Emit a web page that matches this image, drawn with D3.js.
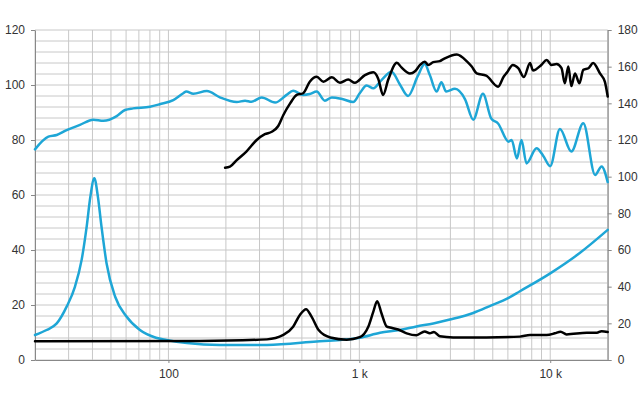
<!DOCTYPE html>
<html><head><meta charset="utf-8">
<script src="https://cdn.jsdelivr.net/npm/d3@7/dist/d3.min.js"></script>
<style>body{margin:0;background:#fff}svg{display:block}</style>
</head><body><svg id="c" width="640" height="400"></svg>
<script>
// ---- data (frequency in Hz, values on left axis) ----
const blueSplFreq = [20,23.5,26,29.3,34.4,40.4,45.6,53.6,59.2,65.3,80,90,106,119.6,124,135,159,186,228,252,272,308,362,416,450,508,550,598,660,718,822,928,1005,1092,1184,1306,1474,1628,1800,2025,2200,2340,2540,2690,2850,3170,3580,3950,4440,4910,5330,6050,6280,6690,7070,7510,8480,9180,10000,11240,12900,14900,17190,18580,20000];
const blueSplDb   = [76.6,81.2,81.8,83.6,85.5,87.4,87.0,88.7,90.9,91.5,92.1,93.0,94.5,97.0,97.6,96.8,97.8,95.5,93.8,94.3,93.9,95.5,93.6,96.4,97.9,96.4,96.7,97.6,94.3,95.5,94.8,93.8,97.0,99.8,98.8,101.8,104.8,100.3,96.0,103.3,107.6,103.6,97.6,101.0,97.6,98.6,94.8,87.4,96.8,87.8,86.0,79.4,80.0,73.3,80.0,71.5,77.0,74.3,70.5,84.0,75.8,86.1,67.3,70.4,64.7];

const blackSplFreq = [198,210,228,256,290,320,348,376,400,434,470,508,550,598,648,718,792,874,948,1070,1184,1254,1332,1418,1572,1662,1842,1958,2080,2200,2296,2440,2640,2740,3240,3670,3880,4120,4620,5330,5700,5930,6370,6800,7280,7840,8120,8980,9580,10160,10800,11460,11920,12440,12900,13480,14220,14900,15860,16780,18220,19320,20000];
const blackSplDb   = [69.9,70.3,72.7,75.8,80.0,82.1,83.0,85.1,89.1,93.3,96.4,97.0,101.2,103.0,101.2,102.8,100.8,102.0,100.8,103.6,104.6,102.4,96.4,102.0,108.1,106.4,104.2,105.0,107.3,108.5,107.3,108.3,108.7,109.3,111.1,108.5,106.7,104.2,103.4,99.4,103.0,104.5,107.3,106.1,102.9,108.0,105.3,107.3,109.1,107.3,107.6,106.1,100.6,106.7,99.6,104.2,100.6,105.5,106.1,108.0,104.2,101.2,95.8];

const blueImpFreq = [20,23,26,29.3,32.4,35.1,37.3,39,40.9,42.7,44.6,47.4,52.6,60.3,70.9,86,97.8,125,186,328,598,792,1005,1284,1628,1992,2440,2980,3950,4820,6050,6940,10000,14220,20000];
const blueImpVal  = [9.1,10.9,13.3,19.4,26.7,36.4,48.5,59.4,66.1,59.4,48.5,35.2,23.0,15.8,10.9,8.1,7.3,6.2,5.5,5.5,6.7,7.3,8.1,9.9,10.9,12.2,13.3,14.7,17.1,19.6,22.6,25.0,31.5,38.8,47.3];

const blackImpFreq = [20,146,328,400,450,488,526,562,612,704,858,1005,1114,1184,1240,1306,1394,1448,1598,1770,1992,2200,2340,2460,2640,3100,4620,6940,7840,9580,10560,11330,12180,15550,17550,18580,20000];
const blackImpVal  = [6.8,6.9,7.5,9.1,12.1,16.4,18.5,15.8,10.9,8.2,7.4,8.3,12.1,17.6,21.4,17.0,12.1,11.8,11.1,9.7,9.0,10.4,9.7,10.2,8.6,8.2,8.2,8.5,9.1,9.1,9.7,10.3,9.3,9.9,9.9,10.5,10.2];

const leftTicks  = [0,20,40,60,80,100,120];
const rightTicks = [0,20,40,60,80,100,120,140,160,180];
const xTicks = [100,1000,10000];
const xTickLabels = ["100","1 k","10 k"];

const BLUE = "#1ea6d6", BLACK = "#000000";
const svg = d3.select("#c");
const x  = d3.scaleLog().domain([20,20000]).range([35,607.7]);
const yL = d3.scaleLinear().domain([0,120]).range([360,30]);
const yR = d3.scaleLinear().domain([0,180]).range([360,30]);

// grid
const g = svg.append("g");
const vLines = [];
[10,100,1000,10000].forEach(d => { for (let k=1;k<10;k++){ const f=d*k; if (f>=20 && f<=20000) vLines.push(f);} });
vLines.push(20000);
g.selectAll("line.v").data(vLines).join("line")
  .attr("x1",d=>x(d)).attr("x2",d=>x(d)).attr("y1",yL(120)).attr("y2",yL(0))
  .attr("stroke","#c8c8c8").attr("stroke-width",1);
g.selectAll("line.h").data(d3.range(0,121,4)).join("line")
  .attr("x1",x(20)).attr("x2",x(20000)).attr("y1",d=>yL(d)).attr("y2",d=>yL(d))
  .attr("stroke","#c8c8c8").attr("stroke-width",1);

// axes
const font = "'Liberation Sans', Arial, sans-serif";
function styleAxis(sel){
  sel.selectAll("text").attr("font-family",font).attr("font-size","12px").attr("fill","#333");
  sel.selectAll("line").attr("stroke","#888");
  sel.select(".domain").attr("stroke","#888");
}
svg.append("g").attr("transform",`translate(${x(20)},0)`)
  .call(d3.axisLeft(yL).tickValues(leftTicks).tickSize(4).tickSizeOuter(0).tickPadding(6).tickFormat(d3.format("d")))
  .call(styleAxis);
svg.append("g").attr("transform",`translate(${x(20000)},0)`)
  .call(d3.axisRight(yR).tickValues(rightTicks).tickSize(4).tickSizeOuter(0).tickPadding(6).tickFormat(d3.format("d")))
  .call(styleAxis);
svg.append("g").attr("transform",`translate(0,${yL(0)})`)
  .call(d3.axisBottom(x).tickValues(xTicks).tickSize(3).tickSizeOuter(0).tickPadding(6).tickFormat((d,i)=>xTickLabels[i]))
  .call(styleAxis);

// curves
const line = d3.line().x(d=>x(d[0])).y(d=>yL(d[1])).curve(d3.curveMonotoneX);
function draw(fs, vs, color){
  svg.append("path").datum(fs.map((f,i)=>[f,vs[i]]))
    .attr("d",line).attr("fill","none").attr("stroke",color)
    .attr("stroke-width",2.5).attr("stroke-linejoin","round").attr("stroke-linecap","round");
}
draw(blueSplFreq, blueSplDb, BLUE);
draw(blueImpFreq, blueImpVal, BLUE);
draw(blackSplFreq, blackSplDb, BLACK);
draw(blackImpFreq, blackImpVal, BLACK);
</script></body></html>
